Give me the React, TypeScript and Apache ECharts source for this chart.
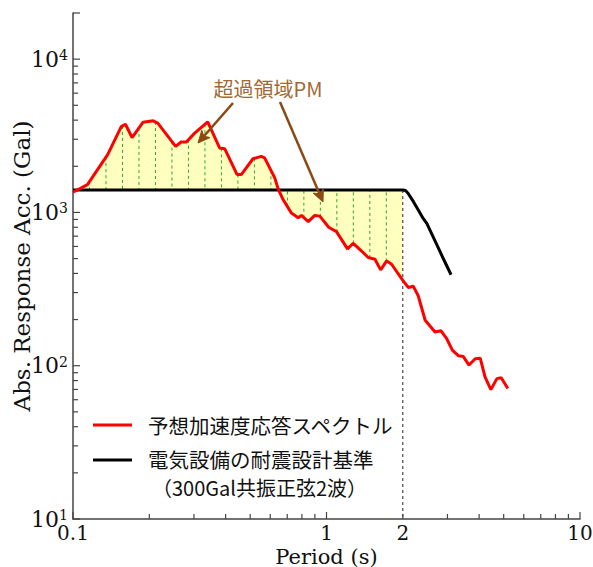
import React, { useEffect, useRef } from "react";
import * as echarts from "echarts";

// ---------- data ----------
const redPeriod = [
  0.1, 0.114, 0.137, 0.155, 0.161, 0.171, 0.189, 0.207, 0.216, 0.254, 0.267, 0.28,
  0.302, 0.34, 0.379, 0.397, 0.444, 0.461, 0.513, 0.553, 0.57, 0.625, 0.645, 0.674,
  0.727, 0.773, 0.796, 0.847, 0.899, 0.941, 1.02, 1.095, 1.21, 1.275, 1.375, 1.461,
  1.553, 1.635, 1.727, 1.806, 2.0, 2.1, 2.2, 2.3, 2.45, 2.68, 2.83, 2.98, 3.14, 3.32,
  3.46, 3.65, 3.86, 4.04, 4.22, 4.45, 4.7, 4.89, 5.19,
];
const redAcc = [
  1355, 1520, 2380, 3630, 3760, 3080, 3880, 3960, 3820, 2700, 2880, 2880,
  3290, 3900, 2630, 2600, 1765, 1765, 2240, 2320, 2270, 1680, 1420, 1214,
  990, 924, 956, 870, 956, 946, 800, 750, 578, 629, 560, 508,
  495, 422, 483, 459, 360, 324, 330, 286, 198, 166, 169, 150, 126, 116,
  115, 101, 111, 112, 84.5, 69.8, 82.4, 83.5, 71,
];
const criterionPeriod = [0.1, 2.0, 2.05, 2.1, 2.2, 2.41, 2.49, 2.7, 2.9, 3.1];
const criterionAcc = [1400, 1400, 1390, 1330, 1180, 910, 844, 636, 493, 392];

const xTickValues = [
  0.1, 0.2, 0.3, 0.4, 0.5, 0.6, 0.7, 0.8, 0.9, 1, 2, 3, 4, 5, 6, 7, 8, 9, 10,
];
const yTickValues = [
  10, 20, 30, 40, 50, 60, 70, 80, 90, 100, 200, 300, 400, 500, 600, 700, 800, 900,
  1000, 2000, 3000, 4000, 5000, 6000, 7000, 8000, 9000, 10000, 20000,
];
const extraXLabels = [2];

const X_MIN = 0.1;
const X_MAX = 10;
const Y_MIN = 10;
const Y_MAX = 20000;
const EXCEED_END = 2; // period where the exceedance area ends
const CRITERION_LEVEL = 1400;
const DIVISIONS = 20;

const redName = "予想加速度応答スペクトル";
const blackName = "電気設備の耐震設計基準";
const blackNote = "（300Gal共振正弦2波）";
const annotation = "超過領域PM";

const SERIF = "'DejaVu Serif', 'Liberation Serif', serif";
const CJK = "'Noto Sans CJK JP', 'Noto Sans', sans-serif";

function isMajor(v: number) {
  const e = Math.log10(v);
  return Math.abs(e - Math.round(e)) < 1e-6;
}

function arrow(x1: number, y1: number, x2: number, y2: number, color: string) {
  const dx = x2 - x1;
  const dy = y2 - y1;
  const len = Math.sqrt(dx * dx + dy * dy);
  const ux = dx / len;
  const uy = dy / len;
  const hl = 12;
  const hw = 5.5;
  const bx = x2 - ux * hl;
  const by = y2 - uy * hl;
  const px = -uy;
  const py = ux;
  return [
    {
      type: "line",
      z: 100,
      shape: { x1, y1, x2: x2 - ux * 4, y2: y2 - uy * 4 },
      style: { stroke: color, lineWidth: 2.5 },
    },
    {
      type: "polygon",
      z: 101,
      shape: {
        points: [
          [x2, y2],
          [bx + px * hw, by + py * hw],
          [bx + ux * 3, by + uy * 3],
          [bx - px * hw, by - py * hw],
        ],
      },
      style: { fill: color, stroke: color, lineWidth: 1 },
    },
  ];
}

export default function App() {
  const ref = useRef<HTMLDivElement>(null);

  useEffect(() => {
    if (!ref.current) return;
    const chart = echarts.init(ref.current, null, { renderer: "svg" });

    const redData = redPeriod.map((t, i) => [t, redAcc[i]]);
    const blackData = criterionPeriod.map((t, i) => [t, criterionAcc[i]]);

    const option: any = {
      animation: false,
      backgroundColor: "#fff",
      grid: {
        left: 73,
        right: 13,
        top: 13,
        bottom: 48,
        containLabel: false,
        outerBoundsMode: "none",
      },
      xAxis: {
        type: "log",
        logBase: 10,
        min: X_MIN,
        max: X_MAX,
        name: "Period (s)",
        nameLocation: "middle",
        nameGap: 27,
        nameMoveOverlap: false,
        nameTextStyle: { fontFamily: SERIF, fontSize: 21, color: "#111" },
        axisLine: { show: true, lineStyle: { color: "#444", width: 1.5 } },
        axisTick: { show: false },
        splitLine: { show: false },
        axisLabel: {
          margin: 4,
          fontFamily: SERIF,
          fontSize: 20,
          color: "#111",
          formatter: (v: number) => {
            if (!isMajor(v)) return "";
            const e = Math.round(Math.log10(v));
            return e < 0 ? "0.1" : String(Math.pow(10, e));
          },
        },
      },
      yAxis: {
        type: "log",
        logBase: 10,
        min: Y_MIN,
        max: Y_MAX,
        name: "Abs. Response Acc. (Gal)",
        nameLocation: "middle",
        nameGap: 40,
        nameMoveOverlap: false,
        nameTextStyle: { fontFamily: SERIF, fontSize: 23, color: "#111" },
        axisLine: { show: true, lineStyle: { color: "#444", width: 1.5 } },
        axisTick: { show: false },
        splitLine: { show: false },
        axisLabel: {
          margin: 5,
          formatter: (v: number) => {
            if (!isMajor(v)) return "";
            const e = Math.round(Math.log10(v));
            return `{b|10}{s|${e}}`;
          },
          rich: {
            b: { fontFamily: SERIF, fontSize: 22, color: "#111" },
            s: {
              fontFamily: SERIF,
              fontSize: 14,
              color: "#111",
              verticalAlign: "top",
            },
          },
        },
      },
      series: [
        {
          // exceedance area fill
          type: "custom",
          silent: true,
          z: 1,
          data: [[X_MIN, CRITERION_LEVEL]],
          renderItem: (_p: any, api: any) => {
            const pts: number[][] = [];
            for (let i = 0; i < redPeriod.length; i++) {
              if (redPeriod[i] <= EXCEED_END) pts.push(api.coord([redPeriod[i], redAcc[i]]));
            }
            pts.push(api.coord([EXCEED_END, CRITERION_LEVEL]));
            pts.push(api.coord([redPeriod[0], CRITERION_LEVEL]));
            return {
              type: "polygon",
              shape: { points: pts },
              style: { fill: "#ffffc0", stroke: null },
            };
          },
        },
        {
          // division lines in exceedance area
          type: "custom",
          silent: true,
          z: 2,
          data: [[X_MIN, CRITERION_LEVEL]],
          renderItem: (_p: any, api: any) => {
            const px = redPeriod.map((t, i) => api.coord([t, redAcc[i]]));
            const children: any[] = [];
            for (let k = 1; k < DIVISIONS; k++) {
              const t = X_MIN * Math.pow(EXCEED_END / X_MIN, k / DIVISIONS);
              const top = api.coord([t, CRITERION_LEVEL]);
              const x = top[0];
              let y = px[0][1];
              for (let i = 0; i < px.length - 1; i++) {
                if (px[i][0] <= x && x <= px[i + 1][0]) {
                  const f = (x - px[i][0]) / (px[i + 1][0] - px[i][0]);
                  y = px[i][1] + f * (px[i + 1][1] - px[i][1]);
                  break;
                }
              }
              children.push({
                type: "line",
                shape: { x1: x, y1: y, x2: x, y2: top[1] },
                style: { stroke: "#2aa82a", lineWidth: 1, lineDash: [3, 3] },
              });
            }
            const a = api.coord([EXCEED_END, CRITERION_LEVEL]);
            const b = api.coord([EXCEED_END, Y_MIN]);
            children.push({
              type: "line",
              shape: { x1: a[0], y1: a[1], x2: b[0], y2: b[1] },
              style: { stroke: "#222", lineWidth: 1, lineDash: [3, 3] },
            });
            return { type: "group", children };
          },
        },
        {
          name: blackName,
          type: "line",
          data: blackData,
          showSymbol: false,
          symbol: "none",
          z: 3,
          lineStyle: { color: "#000", width: 3 },
        },
        {
          name: redName,
          type: "line",
          data: redData,
          showSymbol: false,
          symbol: "none",
          z: 4,
          lineStyle: { color: "#ff0000", width: 3 },
        },
        {
          // x ticks (inside)
          type: "custom",
          silent: true,
          z: 5,
          clip: false,
          data: xTickValues.map((v) => [v, Y_MIN]),
          renderItem: (_p: any, api: any) => {
            const v = api.value(0);
            const p = api.coord([v, Y_MIN]);
            const len = isMajor(v) ? 7 : 5;
            return {
              type: "line",
              shape: { x1: p[0], y1: p[1], x2: p[0], y2: p[1] - len },
              style: { stroke: "#444", lineWidth: 1.2 },
            };
          },
        },
        {
          // y ticks (inside)
          type: "custom",
          silent: true,
          z: 5,
          clip: false,
          data: yTickValues.map((v) => [X_MIN, v]),
          renderItem: (_p: any, api: any) => {
            const v = api.value(1);
            const p = api.coord([X_MIN, v]);
            const len = isMajor(v) || v === Y_MAX ? 7 : 5;
            return {
              type: "line",
              shape: { x1: p[0], y1: p[1], x2: p[0] + len, y2: p[1] },
              style: { stroke: "#444", lineWidth: 1.2 },
            };
          },
        },
        {
          // extra x label "2"
          type: "custom",
          silent: true,
          z: 5,
          clip: false,
          data: extraXLabels.map((v) => [v, Y_MIN]),
          renderItem: (_p: any, api: any) => {
            const v = api.value(0);
            const p = api.coord([v, Y_MIN]);
            return {
              type: "text",
              x: p[0],
              y: p[1] + 4,
              style: {
                text: String(v),
                fontFamily: SERIF,
                fontSize: 20,
                fill: "#111",
                align: "center",
                verticalAlign: "top",
              },
            };
          },
        },
      ],
      graphic: [
        // annotation
        {
          type: "text",
          z: 100,
          x: 268,
          y: 88,
          style: {
            text: annotation,
            fontFamily: CJK,
            fontSize: 20,
            fill: "#a06a35",
            align: "center",
            verticalAlign: "middle",
          },
        },
        ...arrow(233, 103, 198, 143, "#8b4a14"),
        ...arrow(280, 102, 323, 202, "#8b4a14"),
        // legend
        {
          type: "line",
          z: 100,
          shape: { x1: 93, y1: 425, x2: 132, y2: 425 },
          style: { stroke: "#ff0000", lineWidth: 3 },
        },
        {
          type: "text",
          z: 100,
          x: 148,
          y: 425,
          style: {
            text: redName,
            fontFamily: CJK,
            fontSize: 20.5,
            fill: "#111",
            align: "left",
            verticalAlign: "middle",
          },
        },
        {
          type: "line",
          z: 100,
          shape: { x1: 93, y1: 460, x2: 132, y2: 460 },
          style: { stroke: "#000", lineWidth: 3 },
        },
        {
          type: "text",
          z: 100,
          x: 148,
          y: 459,
          style: {
            text: blackName,
            fontFamily: CJK,
            fontSize: 20.5,
            fill: "#111",
            align: "left",
            verticalAlign: "middle",
          },
        },
        {
          type: "text",
          z: 100,
          x: 152,
          y: 487,
          style: {
            text: blackNote,
            fontFamily: CJK,
            fontSize: 20,
            fill: "#111",
            align: "left",
            verticalAlign: "middle",
          },
        },
      ],
    };

    chart.setOption(option);
    return () => chart.dispose();
  }, []);

  return (
    <div
      ref={ref}
      style={{
        position: "fixed",
        left: 0,
        top: 0,
        width: 593,
        height: 567,
        background: "#fff",
      }}
    />
  );
}
